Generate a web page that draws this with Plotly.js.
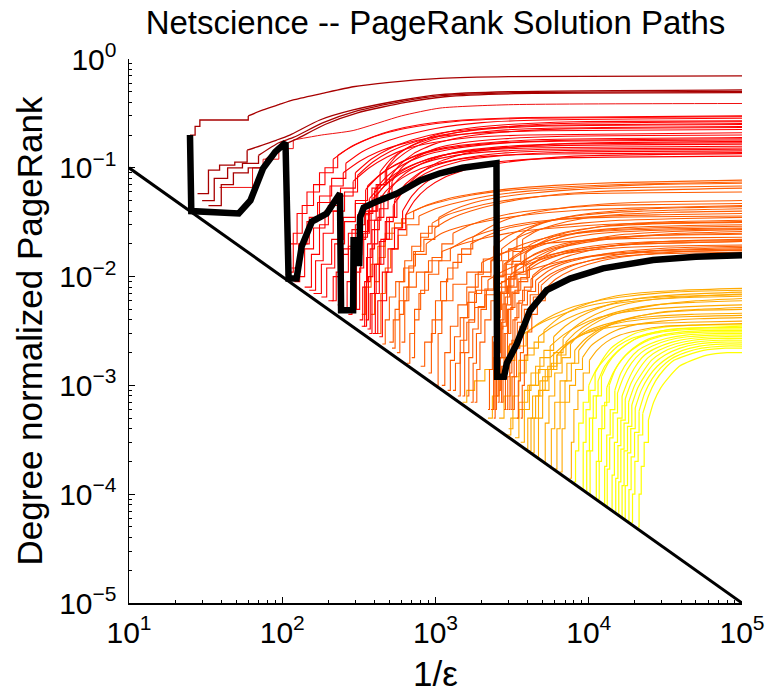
<!DOCTYPE html>
<html>
<head>
<meta charset="utf-8">
<script src="https://cdn.plot.ly/plotly-3.0.1.min.js"></script>
<style>html,body{margin:0;padding:0;background:#fff;}#chart{width:771px;height:693px;}</style>
</head>
<body>
<div id="chart"></div>
<script>
// ---- tick labels ----
const xTickVals = [10, 100, 1000, 10000, 100000];
const xTickText = ['10<sup>1</sup>', '10<sup>2</sup>', '10<sup>3</sup>', '10<sup>4</sup>', '10<sup>5</sup>'];
const yTickVals = [1e-5, 1e-4, 1e-3, 1e-2, 1e-1, 1];
const yTickText = ['10<sup>−5</sup>', '10<sup>−4</sup>', '10<sup>−3</sup>', '10<sup>−2</sup>', '10<sup>−1</sup>', '10<sup>0</sup>'];

// ---- bound line y = epsilon ----
const boundX = [10, 100000];
const boundY = [0.1, 0.00001];

// ---- highlighted (thick black) path ----
const blackX = [25, 25.5, 52, 62, 75, 90, 105, 110, 124, 134, 156, 195, 215, 238, 242, 290, 292, 305, 310, 318, 322, 340, 400, 560, 800, 1070, 1500, 2380, 2500, 2520, 2800, 2920, 3390, 4140, 5320, 7550, 12400, 26300, 50000, 100000];
const blackY = [0.2, 0.04, 0.038, 0.05, 0.099, 0.14, 0.17, 0.0096, 0.0096, 0.019, 0.032, 0.038, 0.047, 0.058, 0.0049, 0.0049, 0.0216, 0.0216, 0.0133, 0.0133, 0.035, 0.043, 0.048, 0.058, 0.077, 0.089, 0.1, 0.11, 0.11, 0.0012, 0.0012, 0.0016, 0.0024, 0.0049, 0.0075, 0.0096, 0.0119, 0.0142, 0.0152, 0.0157];

// ---- dark red paths ----
const darkRedPaths = [
  {x:[25, 27, 29, 50, 60, 75, 95, 118, 180, 290, 500, 1070, 3000, 100000], y:[0.2, 0.24, 0.275, 0.275, 0.3, 0.34, 0.38, 0.42, 0.48, 0.556, 0.61, 0.664, 0.69, 0.70]},
  {x:[28, 33, 39, 49, 59, 92, 112, 176, 290, 610, 1070, 3000, 100000], y:[0.058, 0.095, 0.106, 0.113, 0.145, 0.18, 0.2, 0.275, 0.34, 0.42, 0.47, 0.5, 0.52]},
  {x:[30, 36, 44, 55, 70, 95, 118, 185, 300, 620, 1100, 3200, 100000], y:[0.05, 0.08, 0.1, 0.11, 0.13, 0.17, 0.19, 0.26, 0.33, 0.41, 0.46, 0.49, 0.505]},
  {x:[33, 40, 48, 60, 78, 100, 125, 190, 310, 640, 1150, 3300, 100000], y:[0.045, 0.07, 0.09, 0.1, 0.12, 0.16, 0.185, 0.25, 0.32, 0.40, 0.45, 0.48, 0.49]}
];
const midRedPaths = [
  {x:[39, 64, 75, 95, 118, 180, 290, 600, 1070, 3000, 100000], y:[0.066, 0.1, 0.12, 0.15, 0.18, 0.2, 0.22, 0.3, 0.354, 0.38, 0.39]}
];
// ---- red paths ----
const redPaths = [
  {x:[112, 118, 135, 160, 190, 230, 290, 380, 520, 800, 1500, 4000, 100000], y:[0.011, 0.025, 0.045, 0.07, 0.1, 0.13, 0.16, 0.19, 0.22, 0.25, 0.275, 0.29, 0.30]},
  {x:[120, 130, 150, 175, 210, 260, 330, 450, 650, 1000, 2000, 5000, 100000], y:[0.009, 0.02, 0.035, 0.055, 0.08, 0.11, 0.14, 0.17, 0.2, 0.23, 0.26, 0.275, 0.285]},
  {x:[330, 345, 360, 380, 420, 480, 560, 700, 1000, 1600, 3000, 8000, 100000], y:[0.0035, 0.009, 0.02, 0.04, 0.07, 0.1, 0.13, 0.16, 0.2, 0.23, 0.25, 0.265, 0.27]},
  {x:[140, 155, 175, 200, 240, 300, 380, 500, 700, 1100, 2000, 5000, 100000], y:[0.008, 0.016, 0.03, 0.045, 0.065, 0.09, 0.12, 0.15, 0.18, 0.21, 0.23, 0.245, 0.255]},
  {x:[300, 320, 340, 370, 410, 470, 560, 700, 950, 1400, 2500, 6000, 100000], y:[0.005, 0.012, 0.025, 0.045, 0.07, 0.095, 0.12, 0.15, 0.18, 0.2, 0.22, 0.232, 0.24]},
  {x:[125, 140, 160, 190, 230, 290, 370, 480, 650, 950, 1700, 4000, 100000], y:[0.01, 0.018, 0.028, 0.04, 0.055, 0.075, 0.1, 0.125, 0.15, 0.17, 0.19, 0.2, 0.21]},
  {x:[350, 365, 390, 420, 460, 520, 600, 750, 1000, 1500, 2800, 7000, 100000], y:[0.004, 0.01, 0.02, 0.035, 0.055, 0.075, 0.1, 0.125, 0.15, 0.17, 0.185, 0.195, 0.2]},
  {x:[160, 180, 210, 250, 300, 360, 450, 580, 800, 1200, 2200, 5000, 100000], y:[0.007, 0.013, 0.022, 0.035, 0.05, 0.068, 0.09, 0.11, 0.135, 0.155, 0.17, 0.182, 0.19]},
  {x:[320, 335, 355, 385, 430, 490, 580, 720, 950, 1400, 2500, 6000, 100000], y:[0.004, 0.008, 0.015, 0.027, 0.042, 0.06, 0.08, 0.1, 0.12, 0.14, 0.155, 0.165, 0.17]},
  {x:[200, 215, 240, 270, 310, 370, 450, 560, 750, 1100, 2000, 5000, 100000], y:[0.006, 0.01, 0.016, 0.025, 0.037, 0.052, 0.07, 0.09, 0.11, 0.13, 0.145, 0.153, 0.158]},
  {x:[370, 385, 410, 440, 480, 540, 620, 760, 1000, 1500, 2700, 7000, 100000], y:[0.003, 0.007, 0.013, 0.022, 0.035, 0.05, 0.068, 0.087, 0.105, 0.122, 0.136, 0.144, 0.148]},
  {x:[250, 265, 290, 320, 360, 410, 480, 600, 800, 1200, 2200, 5500, 100000], y:[0.005, 0.009, 0.015, 0.023, 0.033, 0.046, 0.062, 0.08, 0.098, 0.115, 0.128, 0.134, 0.138]},
  {x:[400, 420, 450, 490, 540, 610, 700, 850, 1100, 1600, 3000, 8000, 100000], y:[0.003, 0.006, 0.011, 0.018, 0.028, 0.04, 0.055, 0.072, 0.088, 0.103, 0.116, 0.124, 0.128]},
  {x:[115, 128, 145, 170, 205, 250, 320, 420, 600, 950, 1800, 5000, 100000], y:[0.012, 0.02, 0.032, 0.048, 0.068, 0.09, 0.115, 0.14, 0.165, 0.19, 0.208, 0.219, 0.225]},
  {x:[270, 285, 305, 330, 365, 410, 480, 600, 820, 1250, 2300, 6000, 100000], y:[0.0045, 0.009, 0.016, 0.026, 0.04, 0.055, 0.072, 0.093, 0.115, 0.135, 0.15, 0.16, 0.165]},
  {x:[180, 195, 220, 255, 300, 350, 430, 550, 760, 1150, 2100, 5500, 100000], y:[0.0065, 0.012, 0.02, 0.032, 0.047, 0.063, 0.085, 0.107, 0.13, 0.15, 0.166, 0.175, 0.18]},
  {x:[430, 450, 480, 520, 570, 640, 730, 880, 1150, 1700, 3100, 8000, 100000], y:[0.0028, 0.006, 0.011, 0.018, 0.027, 0.037, 0.05, 0.065, 0.082, 0.099, 0.114, 0.128, 0.135]},
  {x:[105, 112, 125, 145, 175, 215, 270, 350, 480, 750, 1400, 4000, 100000], y:[0.0105, 0.02, 0.038, 0.06, 0.09, 0.12, 0.15, 0.18, 0.21, 0.24, 0.268, 0.285, 0.295]},
  {x:[290, 305, 325, 350, 385, 435, 510, 640, 880, 1350, 2500, 6500, 100000], y:[0.005, 0.011, 0.022, 0.04, 0.065, 0.092, 0.12, 0.15, 0.18, 0.21, 0.235, 0.255, 0.265]},
  {x:[150, 165, 185, 215, 255, 310, 390, 510, 720, 1100, 2000, 5500, 100000], y:[0.0075, 0.014, 0.025, 0.04, 0.06, 0.085, 0.113, 0.142, 0.172, 0.2, 0.225, 0.242, 0.25]},
  {x:[340, 355, 375, 400, 440, 500, 580, 720, 980, 1450, 2700, 7000, 100000], y:[0.0035, 0.009, 0.018, 0.033, 0.055, 0.08, 0.105, 0.135, 0.165, 0.19, 0.212, 0.228, 0.235]},
  {x:[230, 245, 270, 300, 345, 400, 480, 600, 820, 1250, 2300, 6000, 100000], y:[0.0055, 0.011, 0.019, 0.03, 0.045, 0.062, 0.083, 0.105, 0.128, 0.148, 0.165, 0.178, 0.185]},
  {x:[390, 405, 430, 460, 500, 560, 650, 800, 1050, 1550, 2800, 7000, 100000], y:[0.003, 0.007, 0.013, 0.022, 0.035, 0.05, 0.068, 0.09, 0.113, 0.135, 0.152, 0.167, 0.175]},
  {x:[210, 225, 250, 285, 330, 390, 470, 590, 800, 1200, 2200, 5500, 100000], y:[0.006, 0.011, 0.018, 0.027, 0.038, 0.052, 0.069, 0.088, 0.108, 0.126, 0.14, 0.148, 0.152]},
  {x:[360, 375, 400, 430, 470, 530, 610, 750, 1000, 1500, 2800, 7000, 100000], y:[0.0033, 0.007, 0.013, 0.021, 0.032, 0.045, 0.061, 0.079, 0.098, 0.116, 0.13, 0.139, 0.143]}
];
// ---- orange-red paths ----
const orangeRedPaths = [
  {x:[380, 400, 430, 470, 520, 600, 720, 900, 1200, 1800, 3000, 6000, 15000, 100000], y:[0.0045, 0.009, 0.015, 0.022, 0.028, 0.034, 0.04, 0.046, 0.052, 0.058, 0.064, 0.069, 0.073, 0.077]},
  {x:[420, 440, 470, 510, 570, 650, 780, 1000, 1400, 2200, 4000, 9000, 25000, 100000], y:[0.003, 0.007, 0.012, 0.018, 0.024, 0.03, 0.036, 0.042, 0.048, 0.055, 0.061, 0.066, 0.07, 0.072]},
  {x:[600, 630, 670, 720, 800, 900, 1050, 1300, 1700, 2500, 4000, 8000, 20000, 100000], y:[0.0025, 0.006, 0.011, 0.017, 0.023, 0.029, 0.035, 0.041, 0.047, 0.053, 0.058, 0.063, 0.066, 0.068]},
  {x:[700, 730, 780, 850, 950, 1100, 1300, 1700, 2400, 3500, 6000, 12000, 30000, 100000], y:[0.0018, 0.004, 0.007, 0.011, 0.015, 0.02, 0.025, 0.03, 0.035, 0.039, 0.042, 0.045, 0.046, 0.047]},
  {x:[2300, 2400, 2500, 2600, 2750, 3000, 3400, 4000, 5000, 7000, 10000, 18000, 40000, 100000], y:[0.0006, 0.0025, 0.006, 0.01, 0.014, 0.018, 0.023, 0.027, 0.031, 0.035, 0.038, 0.041, 0.043, 0.044]},
  {x:[900, 940, 1000, 1080, 1200, 1400, 1700, 2200, 3000, 4500, 7000, 13000, 30000, 100000], y:[0.0013, 0.003, 0.006, 0.009, 0.012, 0.016, 0.02, 0.024, 0.028, 0.031, 0.034, 0.036, 0.037, 0.038]},
  {x:[1500, 1550, 1650, 1800, 2000, 2300, 2700, 3300, 4300, 6000, 9000, 16000, 35000, 100000], y:[0.0008, 0.002, 0.004, 0.007, 0.01, 0.014, 0.018, 0.022, 0.026, 0.029, 0.031, 0.033, 0.034, 0.035]},
  {x:[500, 530, 580, 650, 750, 900, 1100, 1500, 2200, 3500, 6000, 12000, 30000, 100000], y:[0.0025, 0.004, 0.006, 0.008, 0.011, 0.014, 0.017, 0.02, 0.023, 0.026, 0.028, 0.03, 0.031, 0.032]},
  {x:[2500, 2560, 2650, 2800, 3000, 3300, 3800, 4500, 5800, 8000, 12000, 20000, 45000, 100000], y:[0.0008, 0.002, 0.004, 0.007, 0.01, 0.013, 0.016, 0.019, 0.022, 0.025, 0.027, 0.0285, 0.0295, 0.03]},
  {x:[1100, 1150, 1250, 1400, 1600, 1900, 2300, 2900, 3800, 5500, 8500, 15000, 35000, 100000], y:[0.001, 0.002, 0.0035, 0.0055, 0.008, 0.011, 0.014, 0.017, 0.02, 0.023, 0.025, 0.0265, 0.0275, 0.028]},
  {x:[2600, 2650, 2750, 2900, 3100, 3400, 3900, 4700, 6000, 8500, 13000, 22000, 45000, 100000], y:[0.0009, 0.0018, 0.0035, 0.0055, 0.008, 0.0105, 0.013, 0.0155, 0.018, 0.02, 0.022, 0.0235, 0.0245, 0.025]},
  {x:[800, 850, 950, 1100, 1300, 1600, 2000, 2600, 3500, 5000, 8000, 15000, 35000, 100000], y:[0.0015, 0.0025, 0.004, 0.006, 0.0085, 0.011, 0.0135, 0.016, 0.018, 0.02, 0.0212, 0.0222, 0.0227, 0.023]},
  {x:[2700, 2760, 2850, 3000, 3200, 3500, 4000, 4800, 6200, 8500, 13000, 22000, 45000, 100000], y:[0.0007, 0.0015, 0.003, 0.005, 0.007, 0.009, 0.0115, 0.0135, 0.0155, 0.0175, 0.019, 0.02, 0.0205, 0.021]},
  {x:[1800, 1860, 1950, 2100, 2300, 2600, 3100, 3800, 5000, 7000, 11000, 20000, 40000, 100000], y:[0.0007, 0.0014, 0.0025, 0.004, 0.006, 0.008, 0.0105, 0.0125, 0.0145, 0.0163, 0.0177, 0.0187, 0.0192, 0.0195]},
  {x:[2900, 2960, 3050, 3200, 3400, 3700, 4200, 5000, 6500, 9000, 14000, 24000, 50000, 100000], y:[0.0006, 0.0012, 0.0024, 0.004, 0.0057, 0.0075, 0.0095, 0.0115, 0.0133, 0.015, 0.0163, 0.0172, 0.0177, 0.018]},
  {x:[3200, 3270, 3380, 3550, 3800, 4150, 4700, 5600, 7200, 10000, 15000, 26000, 50000, 100000], y:[0.0006, 0.0012, 0.0022, 0.0035, 0.005, 0.0068, 0.0087, 0.0105, 0.0123, 0.0139, 0.0152, 0.0161, 0.0165, 0.0168]},
  {x:[330, 350, 380, 420, 470, 540, 640, 800, 1100, 1700, 3000, 7000, 20000, 100000], y:[0.0045, 0.008, 0.013, 0.019, 0.025, 0.031, 0.037, 0.043, 0.049, 0.056, 0.062, 0.067, 0.071, 0.074]},
  {x:[450, 470, 500, 550, 620, 720, 870, 1100, 1500, 2300, 4000, 9000, 25000, 100000], y:[0.0024, 0.004, 0.0065, 0.009, 0.012, 0.016, 0.02, 0.025, 0.029, 0.033, 0.037, 0.041, 0.043, 0.045]},
  {x:[2200, 2250, 2350, 2480, 2650, 2900, 3300, 3900, 5000, 7000, 11000, 20000, 40000, 100000], y:[0.0006, 0.0014, 0.0028, 0.0048, 0.007, 0.0095, 0.012, 0.0145, 0.017, 0.0195, 0.0218, 0.0235, 0.025, 0.026]},
  {x:[1300, 1350, 1450, 1600, 1800, 2100, 2600, 3300, 4500, 6500, 10000, 18000, 40000, 100000], y:[0.0009, 0.0016, 0.0026, 0.0038, 0.0052, 0.0068, 0.0085, 0.0103, 0.012, 0.0137, 0.0152, 0.0163, 0.017, 0.0175]},
  {x:[2400, 2450, 2550, 2700, 2900, 3200, 3700, 4500, 6000, 9000, 15000, 35000, 100000], y:[0.0005, 0.002, 0.005, 0.009, 0.013, 0.017, 0.022, 0.026, 0.03, 0.034, 0.037, 0.039, 0.04]},
  {x:[2550, 2600, 2700, 2850, 3050, 3350, 3900, 4700, 6200, 9000, 15000, 35000, 100000], y:[0.0007, 0.0018, 0.0038, 0.0065, 0.0095, 0.013, 0.017, 0.02, 0.024, 0.027, 0.03, 0.032, 0.033]},
  {x:[2800, 2860, 2950, 3100, 3300, 3600, 4100, 4900, 6300, 9000, 15000, 35000, 100000], y:[0.0006, 0.0015, 0.003, 0.0052, 0.0075, 0.0098, 0.0125, 0.015, 0.018, 0.021, 0.024, 0.026, 0.027]},
  {x:[3000, 3060, 3150, 3300, 3500, 3800, 4300, 5100, 6600, 9500, 15000, 35000, 100000], y:[0.0006, 0.0013, 0.0026, 0.0042, 0.006, 0.008, 0.0102, 0.0123, 0.0147, 0.017, 0.0193, 0.0212, 0.022]},
  {x:[3400, 3470, 3580, 3750, 4000, 4350, 4900, 5800, 7400, 10500, 16000, 35000, 100000], y:[0.0005, 0.0011, 0.002, 0.0033, 0.0048, 0.0065, 0.0083, 0.0102, 0.0122, 0.0142, 0.016, 0.0177, 0.0185]},
  {x:[520, 545, 580, 630, 700, 800, 950, 1200, 1700, 2600, 4500, 10000, 100000], y:[0.0022, 0.005, 0.009, 0.014, 0.019, 0.025, 0.031, 0.037, 0.043, 0.049, 0.054, 0.058, 0.06]},
  {x:[1000, 1040, 1100, 1180, 1300, 1480, 1750, 2200, 3000, 4500, 8000, 20000, 100000], y:[0.001, 0.003, 0.006, 0.0095, 0.0135, 0.018, 0.023, 0.028, 0.034, 0.039, 0.044, 0.048, 0.05]},
  {x:[650, 680, 730, 800, 900, 1050, 1250, 1600, 2200, 3300, 5500, 13000, 100000], y:[0.0016, 0.003, 0.005, 0.0075, 0.0105, 0.014, 0.018, 0.022, 0.026, 0.03, 0.033, 0.035, 0.036]},
  {x:[1700, 1760, 1850, 1980, 2150, 2400, 2800, 3400, 4500, 6500, 10000, 25000, 100000], y:[0.0007, 0.0016, 0.003, 0.005, 0.0075, 0.01, 0.013, 0.016, 0.0195, 0.023, 0.026, 0.028, 0.029]},
  {x:[1200, 1250, 1330, 1450, 1620, 1850, 2200, 2800, 3800, 5500, 9000, 20000, 100000], y:[0.0009, 0.0017, 0.0028, 0.0042, 0.0058, 0.0075, 0.0093, 0.0113, 0.0135, 0.0158, 0.0178, 0.0198, 0.021]},
  {x:[2450, 2500, 2600, 2750, 2950, 3250, 3750, 4500, 5800, 8200, 13000, 30000, 100000], y:[0.0006, 0.0016, 0.0033, 0.0056, 0.0082, 0.011, 0.0138, 0.0163, 0.0188, 0.021, 0.0228, 0.024, 0.0245]},
  {x:[2650, 2700, 2800, 2950, 3150, 3450, 3950, 4750, 6100, 8600, 13500, 30000, 100000], y:[0.0007, 0.0015, 0.003, 0.005, 0.0072, 0.0095, 0.012, 0.0142, 0.0163, 0.0182, 0.0198, 0.021, 0.0215]},
  {x:[3100, 3160, 3260, 3420, 3650, 3980, 4500, 5400, 6900, 9700, 15000, 33000, 100000], y:[0.0006, 0.0012, 0.0023, 0.0038, 0.0055, 0.0073, 0.0092, 0.0112, 0.0132, 0.015, 0.0167, 0.0183, 0.019]},
  {x:[1600, 1650, 1750, 1900, 2100, 2400, 2850, 3500, 4600, 6600, 10500, 25000, 100000], y:[0.0008, 0.0018, 0.0033, 0.0053, 0.0077, 0.0103, 0.013, 0.0158, 0.0188, 0.0218, 0.0245, 0.0265, 0.0275]},
  {x:[2350, 2400, 2500, 2650, 2850, 3150, 3600, 4300, 5600, 8000, 13000, 30000, 100000], y:[0.0006, 0.0018, 0.0042, 0.0072, 0.0105, 0.0138, 0.017, 0.0202, 0.0235, 0.0265, 0.029, 0.0307, 0.0315]},
  {x:[3600, 3680, 3800, 3980, 4250, 4620, 5200, 6100, 7800, 11000, 17000, 36000, 100000], y:[0.0005, 0.001, 0.0019, 0.0031, 0.0045, 0.006, 0.0077, 0.0095, 0.0115, 0.0135, 0.0152, 0.0168, 0.0175]},
  {x:[560, 585, 620, 670, 740, 840, 990, 1250, 1700, 2600, 4500, 10000, 100000], y:[0.002, 0.0045, 0.008, 0.0125, 0.017, 0.022, 0.028, 0.034, 0.04, 0.047, 0.054, 0.06, 0.065]},
  {x:[1400, 1450, 1530, 1650, 1820, 2050, 2400, 2950, 3900, 5700, 9500, 22000, 100000], y:[0.0008, 0.002, 0.0042, 0.0072, 0.0105, 0.0145, 0.019, 0.0235, 0.028, 0.033, 0.037, 0.04, 0.042]}
];
// ---- orange paths ----
const orangePaths = [
  {x:[3000, 3200, 3500, 3900, 4400, 5100, 6000, 7500, 10000, 14000, 22000, 40000, 100000], y:[0.0004, 0.0008, 0.0013, 0.0019, 0.0025, 0.0032, 0.0039, 0.0048, 0.0057, 0.0065, 0.0071, 0.0075, 0.0078]},
  {x:[3600, 3800, 4100, 4500, 5100, 5900, 7000, 8800, 11500, 16000, 25000, 45000, 100000], y:[0.0003, 0.0006, 0.001, 0.0015, 0.0021, 0.0028, 0.0035, 0.0043, 0.0051, 0.0059, 0.0065, 0.0069, 0.0072]},
  {x:[1500, 1600, 1800, 2100, 2500, 3000, 3800, 5000, 7000, 10000, 16000, 30000, 100000], y:[0.0007, 0.0009, 0.0011, 0.0014, 0.0018, 0.0023, 0.003, 0.0038, 0.0046, 0.0054, 0.006, 0.0065, 0.0068]},
  {x:[2600, 2800, 3100, 3500, 4000, 4700, 5700, 7200, 9500, 13500, 21000, 40000, 100000], y:[0.0005, 0.0008, 0.0012, 0.0017, 0.0022, 0.0028, 0.0034, 0.0041, 0.0048, 0.0055, 0.006, 0.0064, 0.0066]},
  {x:[4500, 4700, 5000, 5500, 6200, 7100, 8300, 10000, 13000, 18000, 27000, 48000, 100000], y:[0.00022, 0.0005, 0.0009, 0.0014, 0.0019, 0.0025, 0.0031, 0.0037, 0.0044, 0.005, 0.0055, 0.0058, 0.006]},
  {x:[3300, 3500, 3800, 4200, 4800, 5600, 6800, 8500, 11000, 15500, 24000, 45000, 100000], y:[0.00033, 0.0006, 0.0009, 0.0013, 0.0018, 0.0023, 0.0029, 0.0035, 0.0041, 0.0046, 0.005, 0.0053, 0.0055]},
  {x:[5500, 5700, 6000, 6500, 7200, 8100, 9300, 11000, 14000, 19000, 28000, 50000, 100000], y:[0.00018, 0.0004, 0.0007, 0.0011, 0.0016, 0.0021, 0.0026, 0.0031, 0.0037, 0.0042, 0.0046, 0.0049, 0.005]},
  {x:[4000, 4200, 4500, 5000, 5700, 6600, 7800, 9500, 12500, 17000, 26000, 47000, 100000], y:[0.00025, 0.0005, 0.0008, 0.0012, 0.0016, 0.0021, 0.0026, 0.0031, 0.0036, 0.004, 0.0043, 0.0045, 0.0046]},
  {x:[6500, 6700, 7000, 7500, 8200, 9100, 10300, 12000, 15000, 20000, 30000, 52000, 100000], y:[0.00016, 0.0004, 0.0007, 0.001, 0.0014, 0.0018, 0.0023, 0.0027, 0.0032, 0.0036, 0.0039, 0.0041, 0.0042]},
  {x:[2900, 3100, 3500, 4000, 4700, 5600, 6800, 8500, 11000, 15500, 24000, 45000, 100000], y:[0.00035, 0.0005, 0.0007, 0.001, 0.0014, 0.0018, 0.0023, 0.0028, 0.0032, 0.0035, 0.0037, 0.0038, 0.0039]},
  {x:[7500, 7700, 8000, 8500, 9200, 10100, 11300, 13000, 16000, 21000, 31000, 54000, 100000], y:[0.00014, 0.0003, 0.0006, 0.0009, 0.0013, 0.0017, 0.0021, 0.0025, 0.0029, 0.0032, 0.0035, 0.0036, 0.0037]},
  {x:[2200, 2350, 2600, 2900, 3300, 3900, 4700, 6000, 8000, 11500, 18000, 35000, 100000], y:[0.0005, 0.0008, 0.0012, 0.0017, 0.0023, 0.003, 0.0037, 0.0045, 0.0053, 0.006, 0.0066, 0.0072, 0.0075]},
  {x:[5000, 5200, 5500, 6000, 6700, 7600, 8800, 10500, 13500, 18500, 28000, 50000, 100000], y:[0.0002, 0.00045, 0.0008, 0.0013, 0.0018, 0.0024, 0.003, 0.0036, 0.0043, 0.0049, 0.0055, 0.006, 0.0063]},
  {x:[6000, 6200, 6500, 7000, 7700, 8600, 9800, 11500, 14500, 19500, 29000, 52000, 100000], y:[0.00017, 0.0004, 0.0007, 0.0011, 0.0016, 0.0021, 0.0026, 0.0031, 0.0037, 0.0042, 0.0047, 0.005, 0.0052]},
  {x:[3800, 4000, 4300, 4800, 5400, 6200, 7300, 9000, 12000, 16500, 25000, 46000, 100000], y:[0.00026, 0.0005, 0.0008, 0.0011, 0.0015, 0.0019, 0.0024, 0.0029, 0.0034, 0.0038, 0.0041, 0.0043, 0.0044]},
  {x:[4200, 4400, 4700, 5200, 5900, 6800, 8000, 9800, 12800, 17500, 27000, 48000, 100000], y:[0.00024, 0.0005, 0.0009, 0.0014, 0.002, 0.0027, 0.0034, 0.0041, 0.0049, 0.0056, 0.0062, 0.0066, 0.0069]}
];
// ---- yellow paths ----
const yellowPaths = [
  {x:[8000, 8200, 8600, 9200, 10000, 11200, 13000, 15500, 19000, 25000, 35000, 58000, 100000], y:[0.00013, 0.00025, 0.00045, 0.0007, 0.001, 0.0014, 0.0018, 0.0023, 0.0027, 0.003, 0.0033, 0.0034, 0.0035]},
  {x:[9000, 9200, 9600, 10200, 11000, 12200, 14000, 16500, 20000, 26000, 36000, 60000, 100000], y:[0.00011, 0.0003, 0.0006, 0.0009, 0.0013, 0.0017, 0.0022, 0.0026, 0.003, 0.0033, 0.0035, 0.0036, 0.0036]},
  {x:[10000, 10200, 10600, 11200, 12100, 13400, 15200, 17800, 21500, 27500, 38000, 62000, 100000], y:[0.0001, 0.00025, 0.0005, 0.0008, 0.0012, 0.0016, 0.002, 0.0024, 0.0028, 0.0031, 0.0033, 0.0034, 0.0034]},
  {x:[11500, 11700, 12100, 12700, 13600, 14900, 16800, 19500, 23500, 30000, 41000, 65000, 100000], y:[0.00009, 0.0002, 0.0004, 0.0007, 0.001, 0.0014, 0.0018, 0.0022, 0.0026, 0.0029, 0.0031, 0.0032, 0.0032]},
  {x:[12500, 12700, 13100, 13800, 14800, 16200, 18200, 21000, 25000, 32000, 43000, 67000, 100000], y:[0.00008, 0.00018, 0.00035, 0.0006, 0.0009, 0.0013, 0.0017, 0.0021, 0.0024, 0.0027, 0.0029, 0.003, 0.003]},
  {x:[14000, 14200, 14700, 15400, 16500, 18000, 20200, 23200, 27500, 35000, 46000, 70000, 100000], y:[0.00007, 0.00015, 0.0003, 0.0005, 0.0008, 0.0011, 0.0015, 0.0019, 0.0022, 0.0025, 0.0027, 0.0028, 0.0028]},
  {x:[15500, 15700, 16200, 17000, 18200, 19900, 22300, 25600, 30000, 38000, 50000, 72000, 100000], y:[0.000065, 0.00013, 0.00026, 0.00045, 0.0007, 0.001, 0.0013, 0.0017, 0.002, 0.0023, 0.0025, 0.0026, 0.0026]},
  {x:[17000, 17300, 17900, 18800, 20100, 22000, 24600, 28000, 33000, 41000, 53000, 75000, 100000], y:[0.00006, 0.00012, 0.00024, 0.0004, 0.00062, 0.0009, 0.0012, 0.0015, 0.0018, 0.0021, 0.0023, 0.0024, 0.0024]},
  {x:[19000, 19300, 20000, 21000, 22500, 24500, 27300, 31000, 36000, 44000, 56000, 78000, 100000], y:[0.000055, 0.0001, 0.0002, 0.00035, 0.00055, 0.0008, 0.0011, 0.0014, 0.0017, 0.0019, 0.0021, 0.0022, 0.0022]},
  {x:[21000, 21300, 22000, 23000, 24500, 26500, 29500, 33500, 39000, 47000, 59000, 80000, 100000], y:[0.00005, 0.0001, 0.00018, 0.0003, 0.00048, 0.0007, 0.00095, 0.0012, 0.0015, 0.0017, 0.0019, 0.002, 0.002]},
  {x:[9500, 9700, 10100, 10700, 11500, 12700, 14500, 17000, 20500, 26500, 37000, 61000, 100000], y:[0.000105, 0.00025, 0.0005, 0.0008, 0.0011, 0.0015, 0.0019, 0.0023, 0.0027, 0.003, 0.0032, 0.0033, 0.0033]},
  {x:[11000, 11200, 11600, 12200, 13100, 14400, 16300, 19000, 23000, 29000, 40000, 64000, 100000], y:[0.00009, 0.0002, 0.0004, 0.00065, 0.00095, 0.0013, 0.0017, 0.0021, 0.0025, 0.0028, 0.003, 0.0031, 0.0031]},
  {x:[13000, 13200, 13700, 14400, 15400, 16900, 19000, 22000, 26000, 33000, 44000, 68000, 100000], y:[0.000077, 0.00017, 0.00033, 0.00056, 0.00085, 0.0012, 0.0016, 0.002, 0.0023, 0.0026, 0.0028, 0.0029, 0.0029]},
  {x:[14800, 15000, 15500, 16200, 17300, 18900, 21200, 24400, 28700, 36500, 48000, 71000, 100000], y:[0.000068, 0.00014, 0.00028, 0.00048, 0.00075, 0.00105, 0.0014, 0.0018, 0.0021, 0.0024, 0.0026, 0.0027, 0.0027]},
  {x:[16200, 16500, 17000, 17900, 19100, 20900, 23400, 26800, 31500, 39500, 51500, 73500, 100000], y:[0.000062, 0.00012, 0.00025, 0.00042, 0.00066, 0.00095, 0.00125, 0.0016, 0.0019, 0.0022, 0.0024, 0.0025, 0.0025]},
  {x:[18000, 18300, 18900, 19900, 21300, 23200, 25900, 29500, 34500, 42500, 54500, 76500, 100000], y:[0.000057, 0.00011, 0.00022, 0.00037, 0.00058, 0.00085, 0.00115, 0.00145, 0.00175, 0.002, 0.0022, 0.0023, 0.0023]}
];

// ---- colours per group ----
const groupColors = {
  darkRed: '#a80000', midRed: '#f01010', red: '#ff0000',
  orangeRed: '#ff5c00', orange: '#ffaa00', yellow: '#ffff00'
};

// stairs (hv) for the first `k` steps of each path, smooth line for the rest
function pathTraces(paths, color, width, k) {
  const out = [];
  paths.forEach(p => {
    out.push({type:'scatter', mode:'lines', x: p.x.slice(0, k + 1), y: p.y.slice(0, k + 1),
      line:{color: color, width: width, shape:'hv'}, hoverinfo:'skip', showlegend:false});
    out.push({type:'scatter', mode:'lines', x: p.x.slice(k), y: p.y.slice(k),
      line:{color: color, width: width, shape:'spline', smoothing: 0.6}, hoverinfo:'skip', showlegend:false});
  });
  return out;
}

const traces = [].concat(
  pathTraces(yellowPaths, groupColors.yellow, 1.2, 4),
  pathTraces(orangePaths, groupColors.orange, 1.1, 5),
  pathTraces(orangeRedPaths, groupColors.orangeRed, 1.1, 6),
  pathTraces(redPaths, groupColors.red, 1.1, 5),
  pathTraces(midRedPaths, groupColors.midRed, 1, 4),
  pathTraces(darkRedPaths, groupColors.darkRed, 1.3, 4),
  [{type:'scatter', mode:'lines', x: boundX, y: boundY, line:{color:'#000', width:3}, hoverinfo:'skip', showlegend:false},
   {type:'scatter', mode:'lines', x: blackX, y: blackY, line:{color:'#000', width:6.5}, hoverinfo:'skip', showlegend:false}]
);

const minorX = [], minorY = [];
for (let d = 1; d < 5; d++) for (let k = 2; k <= 9; k++) minorX.push(k * Math.pow(10, d));
for (let d = -5; d < 0; d++) for (let k = 2; k <= 9; k++) minorY.push(k * Math.pow(10, d));

const fontFam = '"Liberation Sans", Arial, Helvetica, sans-serif';
const layout = {
  width: 771, height: 693,
  margin: {l: 129, r: 29, t: 59, b: 90},
  paper_bgcolor: '#fff', plot_bgcolor: '#fff',
  font: {family: fontFam, color: '#000', size: 30},
  showlegend: false,
  title: {text: 'Netscience -- PageRank Solution Paths', font: {family: fontFam, size: 33, color: '#000'},
          x: 0.5, xref: 'paper', xanchor: 'center', y: 0.968, yref: 'container', yanchor: 'middle'},
  xaxis: {
    type: 'log', range: [1, 5], showgrid: false, zeroline: false,
    showline: true, linecolor: '#000', linewidth: 1.5, mirror: false,
    ticks: 'inside', ticklen: 6, tickwidth: 1, tickcolor: '#000',
    tickmode: 'array', tickvals: xTickVals, ticktext: xTickText, ticklabelstandoff: 2,
    tickfont: {family: fontFam, size: 30, color: '#000'},
    minor: {tickmode: 'array', tickvals: minorX, ticks: 'inside', ticklen: 3, tickwidth: 1, tickcolor: '#000', showgrid: false},
    title: {text: '1/ε', font: {family: fontFam, size: 35, color: '#000'}, standoff: 35}
  },
  yaxis: {
    type: 'log', range: [-5, 0], showgrid: false, zeroline: false,
    showline: true, linecolor: '#000', linewidth: 1.5, mirror: false,
    ticks: 'inside', ticklen: 6, tickwidth: 1, tickcolor: '#000',
    tickmode: 'array', tickvals: yTickVals, ticktext: yTickText, ticklabelstandoff: 5,
    tickfont: {family: fontFam, size: 30, color: '#000'},
    minor: {tickmode: 'array', tickvals: minorY, ticks: 'inside', ticklen: 3, tickwidth: 1, tickcolor: '#000', showgrid: false},
    title: {text: 'Degree normalized PageRank', font: {family: fontFam, size: 35, color: '#000'}, standoff: 6}
  }
};

Plotly.newPlot('chart', traces, layout, {staticPlot: true, displayModeBar: false});
</script>
</body>
</html>
